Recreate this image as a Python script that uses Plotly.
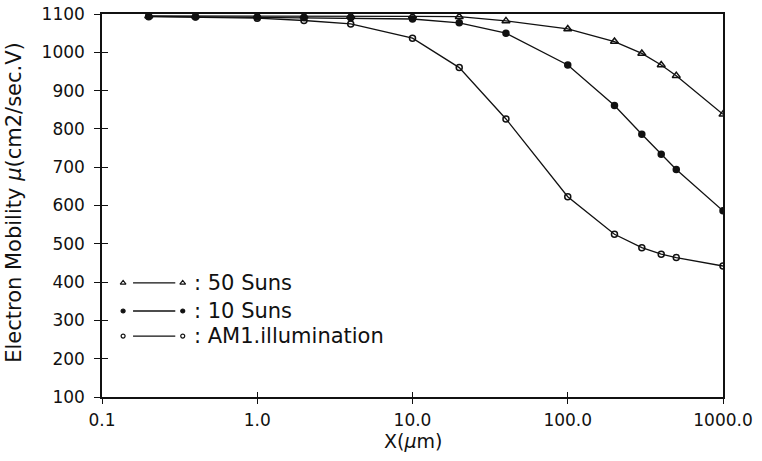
import plotly.graph_objects as go

# Distance from the junction (µm)
x_um = [0.2, 0.4, 1.0, 2.0, 4.0, 10.0, 20.0, 40.0, 100.0, 200.0, 300.0, 400.0, 500.0, 1000.0]

# Electron mobility (cm2/sec.V) for each illumination level
mu_50_suns = [1095, 1095, 1095, 1095, 1095, 1094, 1093, 1082, 1061, 1028, 997, 967, 939, 838]
mu_10_suns = [1094, 1093, 1092, 1091, 1090, 1087, 1077, 1050, 967, 861, 786, 734, 694, 586]
mu_am1 = [1093, 1092, 1089, 1083, 1074, 1037, 960, 826, 623, 525, 490, 473, 464, 442]

x_tick_vals = [0.1, 1.0, 10.0, 100.0, 1000.0]
x_tick_text = ["0.1", "1.0", "10.0", "100.0", "1000.0"]
y_tick_vals = list(range(100, 1101, 100))

series_names = [": 50 Suns", ": 10 Suns", ": AM1.illumination"]
series_symbols = ["triangle-up-open", "circle", "circle-open"]

FONT = "DejaVu Sans"
INK = "#111111"

fig = go.Figure()

for vals, sym in zip([mu_50_suns, mu_10_suns, mu_am1], series_symbols):
    fig.add_trace(go.Scatter(
        x=x_um, y=vals, mode="lines+markers",
        line=dict(color=INK, width=1.3),
        marker=dict(symbol=sym, size=7 if "triangle" in sym else 6,
                    color=INK, line=dict(color=INK, width=1.5)),
        showlegend=False, hoverinfo="skip",
    ))

# Hand-drawn style key: marker, short line, marker, then the label
key_rows = [0.298, 0.2245, 0.159]
key_x_marker = [0.034, 0.130]
key_x_line = [0.050, 0.118]
for row, sym, name in zip(key_rows, series_symbols, series_names):
    fig.add_trace(go.Scatter(
        x=key_x_line, y=[row, row], mode="lines",
        line=dict(color=INK, width=1.3),
        xaxis="x3", yaxis="y3", showlegend=False, hoverinfo="skip",
    ))
    fig.add_trace(go.Scatter(
        x=key_x_marker, y=[row, row], mode="markers",
        marker=dict(symbol=sym, size=5 if "triangle" in sym else 4,
                    color=INK, line=dict(color=INK, width=1.2)),
        xaxis="x3", yaxis="y3", showlegend=False, hoverinfo="skip",
    ))
    fig.add_annotation(
        x=0.145, y=row, xref="paper", yref="paper", text=name,
        showarrow=False, xanchor="left", yanchor="middle",
        font=dict(family=FONT, size=21, color=INK),
    )

axis_common = dict(color=INK, linecolor=INK, tickcolor=INK, showgrid=False,
                   zeroline=False, automargin=False,
                   tickfont=dict(family=FONT, size=17, color=INK))

fig.update_layout(
    width=762, height=461,
    margin=dict(l=102, r=39, t=14, b=64, autoexpand=False),
    paper_bgcolor="white", plot_bgcolor="white",
    xaxis=dict(type="log", range=[-1, 3], tickvals=x_tick_vals, ticktext=x_tick_text,
               ticks="outside", ticklen=5, tickwidth=1.3, showline=True, linewidth=1.5,
               mirror=True, ticklabelstandoff=2, **axis_common),
    yaxis=dict(range=[100, 1100], tickvals=y_tick_vals, ticks="outside", ticklen=6,
               tickwidth=1.3, showline=True, linewidth=1.5, mirror=True,
               ticklabelstandoff=6, **axis_common),
    # inner halves of the crossing tick marks
    xaxis2=dict(type="log", range=[-1, 3], tickvals=x_tick_vals, ticks="inside", ticklen=5,
                tickwidth=1.3, tickcolor=INK, showticklabels=False, showline=False,
                showgrid=False, zeroline=False, automargin=False,
                overlaying="x", anchor="y"),
    yaxis2=dict(range=[100, 1100], tickvals=y_tick_vals, ticks="inside", ticklen=6,
                tickwidth=1.3, tickcolor=INK, showticklabels=False, showline=False,
                showgrid=False, zeroline=False, automargin=False,
                overlaying="y", anchor="x", side="left"),
    xaxis3=dict(range=[0, 1], domain=[0, 1], visible=False, automargin=False,
                overlaying="x", anchor="y3"),
    yaxis3=dict(range=[0, 1], domain=[0, 1], visible=False, automargin=False,
                overlaying="y", anchor="x3"),
)

# traces that bring the crossing-tick axes into the layout
fig.add_trace(go.Scatter(x=x_um[:1], y=mu_am1[:1], xaxis="x2", yaxis="y2", mode="markers",
                         marker=dict(opacity=0), showlegend=False, hoverinfo="skip"))

fig.add_annotation(
    x=-0.1417, y=0.507, xref="paper", yref="paper", textangle=-90,
    text="Electron Mobility <i>μ</i>(cm2/sec.V)", showarrow=False,
    xanchor="center", yanchor="middle", font=dict(family=FONT, size=21, color=INK),
)
fig.add_annotation(
    x=0.5, y=-0.116, xref="paper", yref="paper", text="X(<i>μ</i>m)",
    showarrow=False, xanchor="center", yanchor="middle",
    font=dict(family=FONT, size=19, color=INK),
)

fig.write_html("out.html")
